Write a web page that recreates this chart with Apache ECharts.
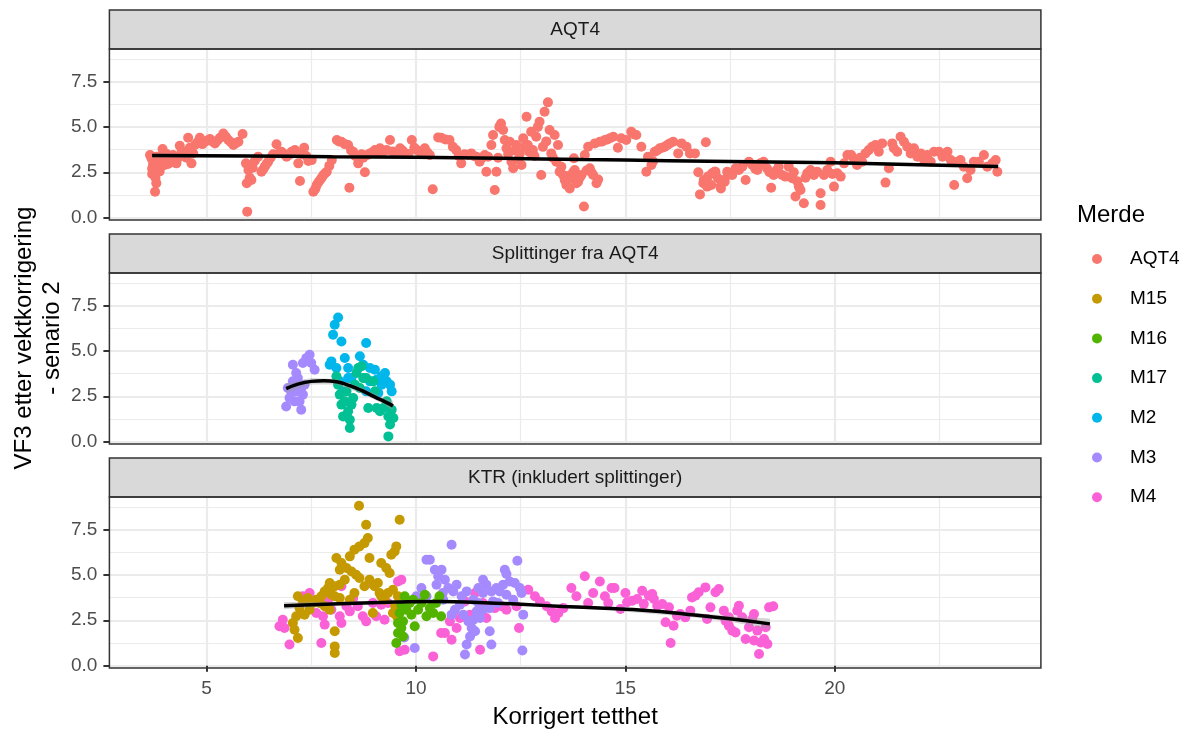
<!DOCTYPE html>
<html>
<head>
<meta charset="utf-8">
<script src="https://cdn.jsdelivr.net/npm/echarts@6/dist/echarts.min.js"></script>
<style>
html, body { margin: 0; padding: 0; background: #ffffff; }
#chart { width: 1188px; height: 731px; }
</style>
</head>
<body>
<div id="chart"></div>
<script>
// ---- categories, labels and ticks ----
const groups = ['AQT4', 'M15', 'M16', 'M17', 'M2', 'M3', 'M4'];
const groupColors = ['#F8766D', '#C49A00', '#53B400', '#00C094', '#00B6EB', '#A58AFF', '#FB61D7'];
const facetTitles = ['AQT4', 'Splittinger fra AQT4', 'KTR (inkludert splittinger)'];
const xTitle = 'Korrigert tetthet';
const yTitle = 'VF3 etter vektkorrigering\n- senario 2';
const legendTitle = 'Merde';
const xTicks = [5, 10, 15, 20];
const xMinorTicks = [7.5, 12.5, 17.5, 22.5];
const yTicks = [0, 2.5, 5, 7.5];
const yMinorTicks = [1.25, 3.75, 6.25, 8.75];
const xRange = [2.68, 24.92];
const yRange = [-0.13, 9.29];

// ---- panel 1: AQT4 ----
const aqt4Top = [
[3.65,3.45],[3.68,3.3],[3.7,3.2],[3.72,2.9],[3.7,2.7],[3.75,2.6],[3.7,2.4],[3.78,2.2],[3.8,1.9],[3.77,1.43],
[3.8,3.35],[3.82,3.0],[3.85,3.1],[3.88,2.55],[3.9,2.8],[3.9,3.4],[3.95,3.78],[3.95,3.3],[3.97,3.05],[4.0,2.9],
[4.02,3.2],[4.05,3.5],[4.08,2.95],[4.12,3.17],[4.15,3.35],[4.2,3.45],[4.22,3.05],[4.25,3.2],[4.28,2.99],[4.32,3.3],
[4.36,3.96],[4.4,3.6],[4.45,3.4],[4.48,3.63],[4.52,3.3],[4.56,4.4],[4.6,3.85],[4.64,2.99],[4.68,3.55],[4.72,4.0],
[4.78,4.15],[4.84,4.4],[4.9,4.05],[4.96,4.18],[5.02,4.25],[5.08,4.33],[5.14,4.2],[5.2,4.09],[5.26,4.25],[5.32,4.4],
[5.4,4.64],[5.46,4.45],[5.52,4.28],[5.58,4.15],[5.64,4.0],[5.7,4.1],[5.76,4.18],[5.86,4.61],[5.94,2.99],[6.0,2.62],
[5.96,1.89],[6.03,2.2],[6.07,2.07],[5.97,0.33],[6.1,2.75],[6.15,3.12],[6.23,3.36],[6.31,2.53],[6.35,2.65],[6.39,2.81],
[6.43,2.95],[6.47,3.08],[6.53,3.3],[6.59,3.49],[6.67,4.04],[6.73,3.55],[6.79,3.63],[6.85,3.5],[6.91,3.36],[6.97,3.45],
[7.03,3.63],[7.11,3.72],[7.19,2.99],[7.23,2.02],[7.28,3.5],[7.33,3.85],[7.38,3.4],[7.43,3.12],[7.51,3.17],[7.55,1.43],
[7.6,1.6],[7.63,1.8],[7.67,1.95],[7.71,2.07],[7.75,2.2],[7.79,2.35],[7.83,2.45],[7.87,2.53],[7.93,2.85],[7.99,3.17],
[8.11,4.28],[8.16,4.2],[8.22,4.18],[8.3,4.05],[8.38,4.0],[8.41,1.65],[8.45,3.7],[8.5,3.63],[8.55,3.4],[8.62,2.99],
[8.7,3.49],[8.74,3.3],[8.78,2.5],[8.84,3.45],[8.9,3.54],[8.96,3.6],[9.02,3.72],[9.08,3.65],[9.14,3.82],[9.2,3.6],
[9.3,3.72],[9.38,4.28],[9.44,3.65],[9.5,3.54],[9.56,3.6],[9.62,3.82],[9.68,3.7],[9.74,3.54],[9.82,3.5],[9.9,4.28],
[9.96,3.85],[10.02,3.72],[10.1,3.6],[10.21,3.82],[10.27,3.6],[10.33,3.45],[10.4,1.56],[10.53,4.42],
[10.6,4.4],[10.7,4.3],[10.8,4.28],[10.88,3.9],[10.96,3.72],[11.02,3.4],[11.08,2.99],[11.16,3.49],[11.24,3.45],[11.32,3.54],
[11.38,3.4],[11.44,3.36],[11.52,3.08],[11.58,3.3],[11.64,3.45],[11.68,2.53],[11.72,3.35],[11.8,4.0],[11.84,4.55],[11.88,1.52],
[11.92,2.53],[11.96,3.3],[11.99,5.0],[12.03,5.19],[12.08,4.83],[12.12,4.28],[12.16,3.82],[12.2,3.5],[12.24,4.18],[12.28,3.08],
[12.32,2.72],[12.36,3.7],[12.4,4.0],[12.44,3.2],[12.48,3.54],[12.52,2.9],[12.56,4.37],[12.6,3.9],[12.64,5.56],[12.67,4.0],
[12.71,3.6],[12.75,4.73],[12.79,3.72],[12.83,3.4],[12.87,4.46],[12.91,5.0],[12.95,5.28],[12.99,2.35],[13.03,3.9],[13.07,5.83],
[13.11,4.2],[13.15,6.35],[13.19,4.83],[13.23,3.54],[13.27,3.3],[13.31,4.55],[13.35,3.08],[13.39,4.0],[13.43,2.53],[13.47,2.8],
[13.51,2.35],[13.55,2.07],[13.59,1.8],[13.63,2.3],[13.67,1.61],[13.71,2.17],[13.75,2.5],[13.77,3.27],[13.79,2.62],[13.83,1.9],
[13.87,1.98],[13.91,2.2],[13.95,2.35],[14.01,0.61],[14.03,3.45],[14.07,2.6],[14.11,3.91],[14.15,2.72],[14.19,2.5],[14.23,2.35],
[14.27,4.09],[14.31,1.89],[14.35,2.1],[14.39,4.18],[14.45,4.2],[14.51,4.28],[14.57,4.3],[14.63,4.37],[14.71,4.46],[14.82,3.85],
[14.9,4.37],[15.02,4.28],[15.14,4.73],[15.2,4.6],[15.26,4.55],[15.38,3.91],[15.5,2.53],[15.54,3.36],[15.62,2.9],[15.66,3.1],
[15.7,3.63],[15.76,3.7],[15.82,3.82],[15.88,3.85],[15.94,3.91],[16.0,4.0],[16.06,4.09],[16.14,4.18],[16.26,3.54],[16.34,4.09],
[16.46,3.91],[16.54,3.54],[16.66,3.54],[16.74,2.5],[16.78,1.28],[16.86,1.89],[16.92,4.15],[16.97,2.26],[17.05,1.8],[17.13,2.53],
[17.21,2.17],[17.28,1.61],[17.37,1.98],[17.45,2.35],
[16.87,2.07],[16.95,1.71],[17.07,2.44],[17.15,2.53],[17.27,1.71],[17.35,2.07],[17.43,2.53],[17.55,2.35],[17.63,2.72],[17.71,2.62],
[17.79,2.81],[17.87,2.07],[17.95,3.08],[18.03,2.9],[18.1,2.7],[18.15,2.62],[18.22,2.99],[18.3,3.08],[18.38,2.72],[18.44,2.5],
[18.48,1.65],[18.54,2.35],[18.6,2.6],[18.66,2.81],[18.74,2.35],[18.82,2.26],[18.9,2.81],[18.98,2.17],[19.02,2.5],[19.06,1.16],
[19.1,2.0],[19.14,1.71],[19.18,1.52],[19.26,0.79],[19.3,2.2],[19.34,2.44],[19.42,2.62],[19.5,2.35],[19.58,2.53],[19.66,1.34],
[19.66,0.7],[19.74,2.35],[19.82,2.62],[19.9,3.08],[19.94,2.4],[19.98,1.71],[20.06,2.44],[20.14,2.26],[20.22,2.99],[20.3,3.45],
[20.39,3.45],[20.46,3.2],[20.53,2.9],[20.6,3.3],[20.65,3.08],[20.73,3.54],[20.81,3.72],[20.89,3.91],[20.97,4.0],[21.05,3.63],
[21.13,4.09],[21.21,1.93],[21.29,2.72],[21.37,4.09],[21.41,3.82],[21.49,3.63],[21.57,4.46],[21.65,4.18],[21.73,3.91],[21.81,3.54],
[21.89,3.82],[21.97,3.36],[22.05,3.54],[22.13,3.17],[22.21,3.45],[22.29,3.08],[22.37,3.63],[22.49,3.63],[22.57,3.36],[22.69,3.63],
[22.77,3.17],[22.85,1.8],[22.93,3.08],[23.0,3.17],[23.08,2.81],[23.16,2.17],[23.24,2.62],[23.32,3.08],[23.44,3.08],[23.56,3.45],
[23.64,2.81],[23.76,2.99],[23.84,3.17],[23.88,2.53]
];

// ---- panel 2: Splittinger fra AQT4 ----
const m3Split = [
[6.94,2.95],[6.9,1.94],[6.98,2.4],[7.06,3.32],[7.06,4.24],[7.14,2.77],[7.18,3.5],[7.22,2.22],[7.26,1.76],[7.3,4.33],
[7.34,3.14],[7.38,4.6],[7.46,4.79],[7.5,4.33],[7.58,3.96],[7.3,2.59],[7.02,2.77],[7.1,2.22],[7.26,2.95],[7.14,3.78]
];
const m2Split = [
[8.14,6.84],[8.06,6.44],[8.02,5.89],[8.22,5.52],[8.81,5.43],[7.98,4.42],[7.94,4.24],[8.3,4.61],[8.38,4.06],[8.46,3.5],
[8.66,4.7],[8.74,4.24],[8.9,4.06],[9.02,3.96],[9.26,3.78],[9.3,3.32],[9.38,3.14],[9.42,2.77],[8.26,2.77],[8.38,3.5],
[9.06,3.41],[9.18,3.14],[8.9,3.32],[8.1,4.06],[8.18,3.32],[8.81,2.77],[9.1,2.68],[9.18,3.6]
];
const m17Split = [
[8.1,3.6],[8.14,3.14],[8.18,2.59],[8.22,2.04],[8.26,1.39],[8.3,2.22],[8.38,1.67],[8.42,1.21],[8.42,0.75],[8.5,2.4],
[8.54,3.14],[8.58,3.78],[8.62,4.06],[8.7,4.15],[8.74,3.5],[8.66,2.95],[8.81,3.5],[8.86,1.85],[8.98,3.32],[9.02,2.77],
[9.06,1.85],[9.14,1.67],[9.22,1.85],[9.3,2.22],[9.34,1.39],[9.38,0.94],[9.34,0.29],[9.42,1.76],[9.46,1.3],[8.46,2.04],
[8.34,2.77]
];

// ---- panel 3: KTR (inkludert splittinger) ----
const m15Ktr = [
[8.64,8.81],[8.81,7.76],[9.61,8.04],[8.85,7.03],[8.77,6.75],[8.65,6.57],[8.53,6.39],[9.53,6.57],[9.49,6.29],[9.41,6.11],
[8.1,5.93],[8.42,6.02],[8.89,5.93],[8.22,5.65],[8.18,5.28],[8.34,5.38],[8.46,5.19],[8.57,5.01],[8.65,4.83],[9.17,5.65],
[9.29,5.38],[9.37,5.1],[8.3,4.73],[8.18,4.46],[8.06,4.37],[7.94,4.55],[7.9,4.28],[7.82,4.09],[7.74,3.82],[7.62,3.63],
[7.7,3.45],[7.54,3.45],[7.42,3.72],[7.3,3.54],[7.18,3.82],[7.22,3.17],[7.14,2.72],[7.06,2.35],[7.1,1.98],[7.18,1.52],
[7.98,3.91],[8.06,3.82],[8.18,3.72],[8.06,1.89],[8.06,1.06],[8.06,0.7],[8.97,2.9],[9.01,4.37],[9.09,4.55],[9.13,4.0],
[9.17,3.82],[9.25,3.63],[9.33,4.0],[9.45,4.18],[9.57,3.82],[8.89,4.73],[8.77,4.37],[7.46,3.08],[7.34,2.81],[8.42,3.63],
[8.53,4.0],[7.94,3.08],[7.82,3.27],[9.5,3.3],[9.55,2.7],[9.45,2.9]
];
const m16Ktr = [
[9.73,3.82],[9.65,3.36],[9.61,2.9],[9.57,2.35],[9.57,1.8],[9.53,1.25],[9.65,2.07],[9.69,2.44],[9.77,3.08],[9.85,3.45],
[9.93,3.63],[9.97,2.17],[10.05,3.08],[10.13,3.45],[10.21,3.91],[10.25,2.72],[10.33,3.17],[10.41,2.9],[10.48,3.45],[10.56,3.82],
[10.6,2.72],[9.69,1.61],[9.89,2.81]
];
const m3Ktr = [
[10.25,5.83],[10.33,5.83],[10.45,5.28],[10.53,4.92],[10.49,4.46],[10.13,4.28],[10.25,3.82],[10.01,3.82],[9.73,3.27],[9.72,1.55],
[9.97,0.97],[10.64,4.0],
[10.85,6.66],[12.42,5.78],[12.12,5.28],[12.16,5.05],[10.61,5.28],[10.69,4.73],[10.97,4.46],[10.89,4.09],[10.77,4.28],[10.65,3.63],
[11.09,3.82],[11.21,4.09],[11.37,3.63],[11.49,4.28],[11.6,4.73],[11.68,4.46],[11.8,4.09],[11.92,4.28],[12.0,4.09],[12.08,4.46],
[12.24,4.64],[12.36,4.55],[12.48,4.28],[12.52,4.0],[12.56,2.81],[12.54,0.83],[11.84,3.54],[11.76,3.17],[11.6,3.08],[11.45,2.99],
[11.37,2.53],[11.33,2.07],[11.29,1.61],[11.21,1.16],[11.17,0.61],[11.25,2.44],[11.41,1.89],[11.53,2.62],[11.76,1.89],[11.8,1.16],
[10.85,2.81],[11.05,3.36],[10.93,3.08],[11.96,3.45],[12.16,3.91],[12.32,3.63],[11.49,3.45],[11.6,4.0],[11.13,2.81]
];
const m4Ktr = [
[6.82,2.53],[6.74,2.17],[6.86,2.07],[6.98,1.16],[7.3,3.82],[7.46,4.0],[7.62,2.9],[7.74,1.25],[7.82,2.26],[7.98,3.08],
[8.22,4.37],[8.18,2.72],[8.22,2.35],[8.42,2.99],[8.5,3.72],[8.61,3.27],[8.73,2.72],[8.81,2.44],[8.89,4.55],[8.97,3.45],
[9.05,2.72],[9.17,3.36],[9.25,2.53],[9.33,3.45],[9.57,4.64],[9.65,4.73],[9.61,0.79],[9.73,0.88],[10.41,0.51],[10.6,1.8],
[7.9,3.63],[8.34,3.27],[7.78,2.72],
[10.69,1.8],[10.85,1.43],[10.81,2.44],[10.97,2.07],[11.05,2.62],[11.29,2.81],[11.41,4.0],[11.53,0.88],[11.68,2.62],[11.88,3.17],
[12.16,3.08],[12.4,3.27],[12.46,2.07],[12.68,4.18],[12.84,3.82],[12.96,3.54],[13.12,3.27],[13.24,2.99],[13.32,2.62],[13.4,2.9],
[13.52,3.17],[13.71,4.28],[13.83,3.82],[14.03,4.92],[14.11,3.45],[14.23,4.0],[14.39,4.64],[14.51,3.82],[14.59,3.45],[14.67,4.28],
[11.17,3.54],[11.6,3.45],[12.04,3.27],
[14.74,4.28],[15.0,4.0],[15.4,4.13],[15.04,3.49],[15.16,3.58],[15.28,3.67],[15.44,3.39],[15.56,3.85],[15.64,3.94],[15.68,3.67],
[15.76,3.3],[15.88,3.39],[15.96,2.39],[16.04,3.21],[16.08,1.25],[16.15,2.2],[16.23,2.75],[16.31,2.84],[16.43,2.66],[16.55,3.03],
[16.59,3.76],[16.67,3.85],[16.75,4.04],[16.91,4.31],[16.95,2.57],[17.03,3.21],[17.15,4.04],[17.23,4.22],[17.35,3.03],[17.39,2.48],
[17.47,2.2],[17.55,1.93],[17.63,1.83],[17.67,3.03],[17.71,3.3],[17.79,2.66],[17.87,1.47],[17.95,2.11],[18.03,2.57],[18.07,2.84],
[18.07,1.38],[18.15,1.93],[18.19,0.64],[18.23,1.28],[18.31,1.47],[18.35,2.11],[18.43,3.21],[18.53,3.27],[18.39,1.19],[17.47,2.66],
[14.88,3.12]
];

// ---- smoothed fits: [x, y] and confidence bands: [x, lower, upper] ----
const smoothTop = [[3.7,3.42],[6,3.4],[8,3.36],[10,3.32],[12,3.27],[14,3.2],[16,3.14],[18,3.08],[20,3.02],[22,2.92],[23.9,2.82]];
const bandTop = [[3.7,3.3,3.54],[6,3.34,3.46],[10,3.27,3.37],[14,3.15,3.25],[18,3.03,3.13],[22,2.86,2.98],[23.9,2.72,2.92]];
const smoothSplit = [[6.9,2.92],[7.2,3.18],[7.5,3.32],[7.8,3.36],[8.1,3.3],[8.4,3.1],[8.7,2.82],[9.0,2.48],[9.3,2.15],[9.45,1.97]];
const bandSplit = [[6.9,2.65,3.2],[7.5,3.15,3.5],[8.1,3.15,3.45],[8.7,2.65,3.0],[9.2,2.1,2.45],[9.45,1.7,2.25]];
const smoothKtr = [[6.85,3.3],[8,3.4],[9.5,3.5],[10.6,3.54],[11.5,3.48],[12.5,3.38],[13.5,3.26],[14.5,3.16],[15.5,3.04],[16.5,2.82],[17.5,2.58],[18.45,2.3]];
const bandKtr = [[6.85,3.1,3.5],[8,3.3,3.5],[9.5,3.42,3.58],[10.6,3.46,3.62],[12.5,3.3,3.46],[14.5,3.07,3.25],[16.5,2.7,2.94],[17.5,2.42,2.74],[18.45,2.0,2.6]];

// which groups sit in which facet, in drawing order
const facetPoints = [
  [['AQT4', aqt4Top]],
  [['M3', m3Split], ['M2', m2Split], ['M17', m17Split]],
  [['M4', m4Ktr], ['M3', m3Ktr], ['M15', m15Ktr], ['M16', m16Ktr]]
];
const facetSmooth = [smoothTop, smoothSplit, smoothKtr];
const facetBand = [bandTop, bandSplit, bandKtr];

// ---- layout ----
const FONT = "'Liberation Sans', Arial, sans-serif";
const panelLeft = 109.4;
const panelWidth = 931.5;
const firstPanelTop = 49;
const panelHeight = 171;
const panelStep = 224;
const stripHeight = 39;
const gridColor = '#EBEBEB';
const borderColor = '#333333';

const grids = [], xAxes = [], yAxes = [], series = [], graphics = [];

facetTitles.forEach((title, i) => {
  const top = firstPanelTop + panelStep * i;
  const isLast = i === facetTitles.length - 1;
  grids.push({ left: panelLeft, top: top, width: panelWidth, height: panelHeight, containLabel: false });

  // major axes (ticks, labels, major grid)
  xAxes.push({
    type: 'value', gridIndex: i, min: xRange[0], max: xRange[1], position: 'bottom',
    axisLine: { show: false },
    axisTick: { show: isLast, length: 6, lineStyle: { color: borderColor, width: 2 }, customValues: xTicks },
    axisLabel: { show: isLast, customValues: xTicks, margin: 11, color: '#4D4D4D', fontSize: 19, fontFamily: FONT },
    splitLine: { show: true, lineStyle: { color: gridColor, width: 2.2 } }
  });
  // minor grid
  xAxes.push({
    type: 'value', gridIndex: i, min: xRange[0], max: xRange[1], position: 'top',
    axisLine: { show: false },
    axisTick: { show: false, customValues: xMinorTicks },
    axisLabel: { show: false },
    splitLine: { show: true, lineStyle: { color: gridColor, width: 1.2 } }
  });
  yAxes.push({
    type: 'value', gridIndex: i, min: yRange[0], max: yRange[1], position: 'left',
    axisLine: { show: false },
    axisTick: { show: true, length: 6, lineStyle: { color: borderColor, width: 2 }, customValues: yTicks },
    axisLabel: { show: true, customValues: yTicks, margin: 12, color: '#4D4D4D', fontSize: 19, fontFamily: FONT,
      formatter: v => v.toFixed(1) },
    splitLine: { show: true, lineStyle: { color: gridColor, width: 2.2 } }
  });
  yAxes.push({
    type: 'value', gridIndex: i, min: yRange[0], max: yRange[1], position: 'right',
    axisLine: { show: false },
    axisTick: { show: false, customValues: yMinorTicks },
    axisLabel: { show: false },
    splitLine: { show: true, lineStyle: { color: gridColor, width: 1.2 } }
  });

  // points
  facetPoints[i].forEach(([name, pts]) => {
    series.push({
      type: 'scatter', name: name, xAxisIndex: 2 * i, yAxisIndex: 2 * i,
      data: pts, symbol: 'circle', symbolSize: 10, z: 2,
      itemStyle: { color: groupColors[groups.indexOf(name)], opacity: 1 },
      emphasis: { disabled: true }
    });
  });

  // confidence band of the smooth
  const band = facetBand[i];
  series.push({
    type: 'custom', name: 'band' + i, xAxisIndex: 2 * i, yAxisIndex: 2 * i, silent: true, z: 3,
    clip: false,
    encode: { x: 0, y: 1 },
    data: [[band[0][0], band[0][1]]],
    renderItem: (params, api) => {
      const upper = band.map(b => api.coord([b[0], b[2]]));
      const lower = band.slice().reverse().map(b => api.coord([b[0], b[1]]));
      return { type: 'polygon', shape: { points: upper.concat(lower) },
               style: { fill: 'rgba(153,153,153,0.4)' } };
    }
  });
  // smooth line
  series.push({
    type: 'line', name: 'smooth' + i, xAxisIndex: 2 * i, yAxisIndex: 2 * i,
    data: facetSmooth[i], smooth: true, showSymbol: false, symbol: 'none', silent: true, z: 4,
    lineStyle: { color: '#000000', width: 3.5 }
  });

  // strip
  const stripTop = top - stripHeight;
  graphics.push({
    type: 'rect', z: 100, shape: { x: panelLeft, y: stripTop, width: panelWidth, height: stripHeight },
    style: { fill: '#D9D9D9', stroke: borderColor, lineWidth: 1.5 }
  });
  graphics.push({
    type: 'text', z: 101, x: panelLeft + panelWidth / 2, y: stripTop + stripHeight / 2,
    style: { text: title, align: 'center', verticalAlign: 'middle', fontSize: 19, fontFamily: FONT, fill: '#1A1A1A' }
  });
  // panel border
  graphics.push({
    type: 'rect', z: 100, shape: { x: panelLeft, y: top, width: panelWidth, height: panelHeight },
    style: { fill: 'none', stroke: borderColor, lineWidth: 1.5 }
  });
});

// axis titles and legend title
graphics.push({
  type: 'text', z: 101, x: panelLeft + panelWidth / 2, y: 717,
  style: { text: xTitle, align: 'center', verticalAlign: 'middle', fontSize: 24, fontFamily: FONT, fill: '#000000' }
});
graphics.push({
  type: 'text', z: 101, x: 38, y: 338, rotation: Math.PI / 2,
  style: { text: yTitle, align: 'center', verticalAlign: 'middle', fontSize: 24, lineHeight: 28, fontFamily: FONT, fill: '#000000' }
});
graphics.push({
  type: 'text', z: 101, x: 1077, y: 215,
  style: { text: legendTitle, align: 'left', verticalAlign: 'middle', fontSize: 24, fontFamily: FONT, fill: '#000000' }
});

const chart = echarts.init(document.getElementById('chart'), null, { renderer: 'canvas' });
chart.setOption({
  animation: false,
  backgroundColor: '#ffffff',
  grid: grids,
  xAxis: xAxes,
  yAxis: yAxes,
  legend: {
    data: groups, orient: 'vertical', left: 1092, top: 249, padding: 0,
    icon: 'circle', itemWidth: 10, itemHeight: 10, itemGap: 19.7,
    selectedMode: false,
    textStyle: { fontSize: 19, lineHeight: 20, fontFamily: FONT, color: '#000000', padding: [0, 0, 0, 23] }
  },
  graphic: graphics,
  series: series
});
</script>
</body>
</html>
